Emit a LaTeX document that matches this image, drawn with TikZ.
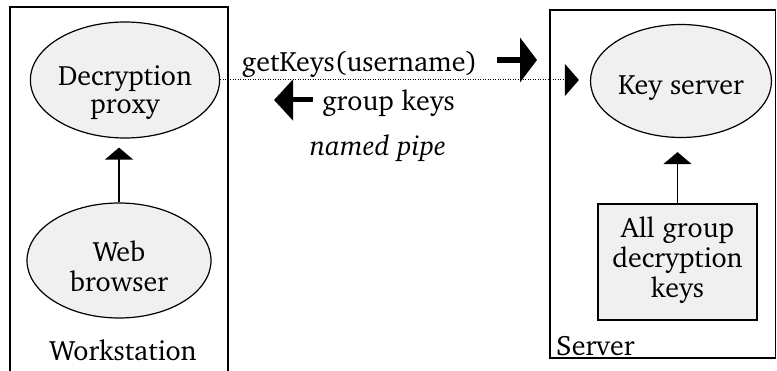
\documentclass[tikz,border=0pt]{standalone}
\usepackage[T1]{fontenc}
\usepackage{charter}
\usetikzlibrary{arrows.meta,shapes.geometric}
\definecolor{nodefill}{HTML}{F0F0F0}
\newcommand\dropby[2]{\raisebox{-#1}[\height][\depth]{\begin{tabular}{@{}c@{}}#2\end{tabular}}}
\tikzset{
  txt/.style={font=\fontsize{28}{28}\selectfont},
  wide/.style={font=\fontsize{28}{30}\selectfont},
  oval/.style={ellipse, draw, line width=1.2pt, fill=nodefill, inner sep=0pt, align=center, txt},
  keybox/.style={rectangle, draw, line width=1.5pt, fill=nodefill, inner sep=0pt, align=center, txt},
  frame/.style={draw, line width=1.5pt},
  uparrow/.style={line width=1.5pt, -{Triangle[width=28pt,length=12pt]}},
  pipe/.style={line width=1pt, dash pattern=on 1pt off 1.5pt, -{Triangle[width=32pt,length=14pt]}}
}
\begin{document}
\begin{tikzpicture}[x=1pt,y=-1pt]
\useasboundingbox (0,0) rectangle (777,371);
% boxes
\draw[frame] (10,372) -- (10,7) -- (228,7) -- (228,372);
\draw[frame] (550,10) rectangle (775.5,358);
% nodes
\node[oval, minimum width=184pt, minimum height=116pt] (proxy) at (125,80) {\dropby{13.4pt}{Decryption\\proxy}};
\node[oval, wide, minimum width=184pt, minimum height=115pt] (browser) at (119,260.5) {\dropby{10.5pt}{Web\\browser}};
\node[oval, minimum width=181pt, minimum height=113pt] (keyserver) at (681,81) {\dropby{8.4pt}{Key server}};
\node[keybox, wide, minimum width=159pt, minimum height=116pt] (keys) at (677.5,262) {\dropby{0pt}{All group\\decryption\\keys}};
% labels
\node[txt, anchor=base] (ws) at (123,361) {Workstation};
\node[txt, anchor=base west, inner sep=0pt] (srv) at (556,356) {Server};
\node[txt, anchor=base] (getk) at (359.5,72) {getKeys(username)};
\node[txt, anchor=base] (gk) at (388.5,111) {group keys};
\node[txt, font=\fontsize{28}{28}\selectfont\itshape, anchor=base] (np) at (378,156) {named pipe};
% connectors
\draw[uparrow, shorten >=9pt] (browser.north) -- (browser.north |- proxy.south);
\draw[uparrow, shorten >=14pt] (keys.north) -- (keys.north |- keyserver.south);
\draw[pipe, shorten >=11pt] (proxy.east) -- (proxy.east -| keyserver.west);
% direction arrows
\coordinate (ra1) at (497,60);
\coordinate (ra2) at (537,60);
\coordinate (la1) at (313,100);
\coordinate (la2) at (274,100);
\draw[-{Triangle[width=44pt,length=17pt]}, line width=6pt] (ra1) -- (ra2);
\draw[-{Triangle[width=40pt,length=19pt]}, line width=5pt] (la1) -- (la2);
\end{tikzpicture}
\end{document}
